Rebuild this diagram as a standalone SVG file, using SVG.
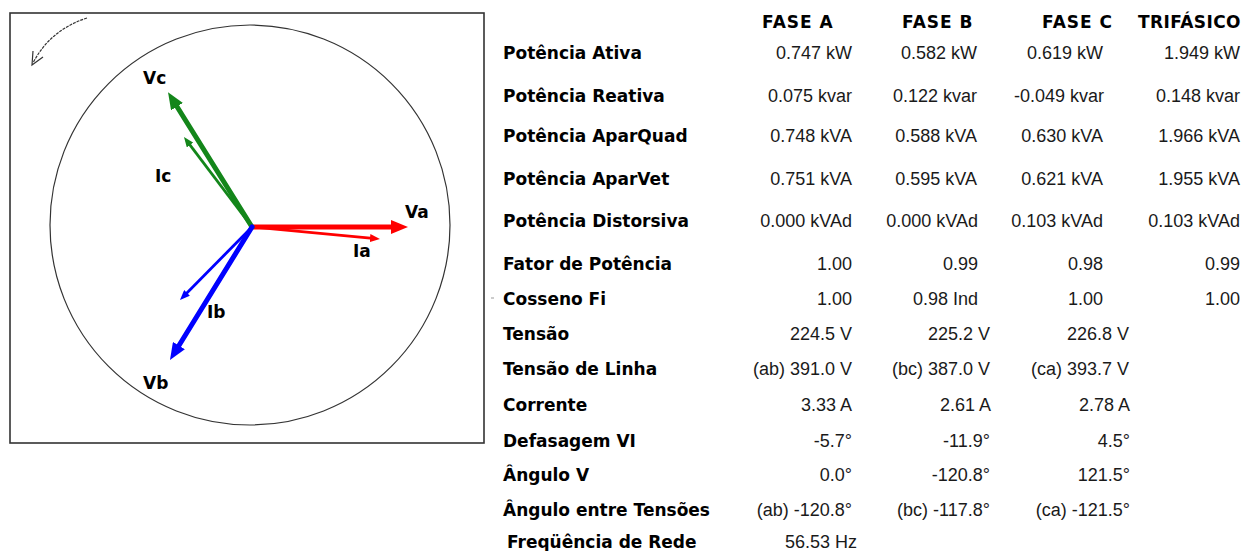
<svg xmlns="http://www.w3.org/2000/svg" width="1250" height="551" viewBox="0 0 1250 551">
<style>
.lbl{font-family:"DejaVu Sans",sans-serif;font-weight:bold;font-size:17px;fill:#000}
.hdr{font-family:"DejaVu Sans",sans-serif;font-weight:bold;font-size:17px;fill:#000;letter-spacing:1px}
.val{font-family:"Liberation Sans",Arial,sans-serif;font-size:18px;fill:#1a1a1a;text-anchor:end}
.ph{font-family:"DejaVu Sans",sans-serif;font-weight:bold;font-size:17px;fill:#000}
.thick{stroke-width:5;fill:none;stroke-linecap:round}
.thin{stroke-width:2.8;fill:none}
</style>
<defs>
<marker id="hR" markerUnits="userSpaceOnUse" markerWidth="17" markerHeight="14" refX="4" refY="7" orient="auto"><path d="M0,0 L17,7 L0,14 z" fill="#ff0000"/></marker>
<marker id="hG" markerUnits="userSpaceOnUse" markerWidth="17" markerHeight="14" refX="4" refY="7" orient="auto"><path d="M0,0 L17,7 L0,14 z" fill="#13861a"/></marker>
<marker id="hB" markerUnits="userSpaceOnUse" markerWidth="17" markerHeight="14" refX="4" refY="7" orient="auto"><path d="M0,0 L17,7 L0,14 z" fill="#0000ff"/></marker>
<marker id="sR" markerUnits="userSpaceOnUse" markerWidth="10" markerHeight="8" refX="3" refY="4" orient="auto"><path d="M0,0 L10,4 L0,8 z" fill="#ff0000"/></marker>
<marker id="sG" markerUnits="userSpaceOnUse" markerWidth="10" markerHeight="8" refX="3" refY="4" orient="auto"><path d="M0,0 L10,4 L0,8 z" fill="#13861a"/></marker>
<marker id="sB" markerUnits="userSpaceOnUse" markerWidth="10" markerHeight="8" refX="3" refY="4" orient="auto"><path d="M0,0 L10,4 L0,8 z" fill="#0000ff"/></marker>
</defs>
<rect width="1250" height="551" fill="#ffffff"/>
<g id="phasor-panel">
<rect x="10" y="13" width="474" height="430" fill="#ffffff" stroke="#333" stroke-width="1.6"/>
<circle cx="250" cy="225" r="200" fill="none" stroke="#333" stroke-width="1.2"/>
<path d="M87,18 Q50,30 33,63" fill="none" stroke="#333" stroke-width="1.2" stroke-dasharray="3,1"/>
<path d="M33,51 L32,65 L43,57" fill="none" stroke="#333" stroke-width="1.2"/>
</g>
<g id="connectors">
<line class="thin" x1="252" y1="227" x2="373" y2="238.3" stroke="#ff0000" marker-end="url(#sR)"/>
<line class="thin" x1="252" y1="227" x2="188.2" y2="142.6" stroke="#13861a" marker-end="url(#sG)"/>
<line class="thin" x1="252" y1="227" x2="184.9" y2="295" stroke="#0000ff" marker-end="url(#sB)"/>
<line class="thick" x1="252" y1="227" x2="395" y2="227" stroke="#ff0000" marker-end="url(#hR)"/>
<line class="thick" x1="252" y1="227" x2="174.9" y2="103.2" stroke="#13861a" marker-end="url(#hG)"/>
<line class="thick" x1="252" y1="227" x2="176.8" y2="349" stroke="#0000ff" marker-end="url(#hB)"/>
</g>
<g id="phasor-labels">
<text id="Va" class="ph" x="405" y="218">Va</text>
<text id="Ia" class="ph" x="353" y="257">Ia</text>
<text id="Vc" class="ph" x="143" y="84">Vc</text>
<text id="Ic" class="ph" x="155" y="182">Ic</text>
<text id="Vb" class="ph" x="143" y="389">Vb</text>
<text id="Ib" class="ph" x="207" y="318">Ib</text>
</g>
<g id="table-header">
<text class="hdr" x="762" y="28">FASE A</text>
<text class="hdr" x="902" y="28">FASE B</text>
<text class="hdr" x="1042" y="28">FASE C</text>
<text class="hdr" x="1138" y="28" style="letter-spacing:0.4px">TRIFÁSICO</text>
</g>
<g id="table-labels">
<text class="lbl" x="503" y="59">Potência Ativa</text>
<text class="lbl" x="503" y="102">Potência Reativa</text>
<text class="lbl" x="503" y="142">Potência AparQuad</text>
<text class="lbl" x="503" y="185">Potência AparVet</text>
<text class="lbl" x="503" y="227">Potência Distorsiva</text>
<text class="lbl" x="503" y="270">Fator de Potência</text>
<text class="lbl" x="503" y="305">Cosseno Fi</text>
<text class="lbl" x="503" y="340">Tensão</text>
<text class="lbl" x="503" y="375">Tensão de Linha</text>
<text class="lbl" x="503" y="411">Corrente</text>
<text class="lbl" x="503" y="447">Defasagem VI</text>
<text class="lbl" x="503" y="481">Ângulo V</text>
<text class="lbl" x="503" y="516">Ângulo entre Tensões</text>
<text class="lbl" x="507" y="548">Freqüência de Rede</text>
<line x1="491" y1="298" x2="494" y2="298" stroke="#999" stroke-width="1"/>
</g>
<g id="table-values">
<text class="val" x="852" y="59">0.747 kW</text>
<text class="val" x="977" y="59">0.582 kW</text>
<text class="val" x="1103" y="59">0.619 kW</text>
<text class="val" x="1240" y="59">1.949 kW</text>
<text class="val" x="852" y="102">0.075 kvar</text>
<text class="val" x="977" y="102">0.122 kvar</text>
<text class="val" x="1104" y="102">-0.049 kvar</text>
<text class="val" x="1240" y="102">0.148 kvar</text>
<text class="val" x="852" y="142">0.748 kVA</text>
<text class="val" x="977" y="142">0.588 kVA</text>
<text class="val" x="1103" y="142">0.630 kVA</text>
<text class="val" x="1240" y="142">1.966 kVA</text>
<text class="val" x="852" y="185">0.751 kVA</text>
<text class="val" x="977" y="185">0.595 kVA</text>
<text class="val" x="1103" y="185">0.621 kVA</text>
<text class="val" x="1240" y="185">1.955 kVA</text>
<text class="val" x="852" y="227">0.000 kVAd</text>
<text class="val" x="978" y="227">0.000 kVAd</text>
<text class="val" x="1103" y="227">0.103 kVAd</text>
<text class="val" x="1240" y="227">0.103 kVAd</text>
<text class="val" x="852" y="270">1.00</text>
<text class="val" x="978" y="270">0.99</text>
<text class="val" x="1103" y="270">0.98</text>
<text class="val" x="1240" y="270">0.99</text>
<text class="val" x="852" y="305">1.00</text>
<text class="val" x="978" y="305">0.98 Ind</text>
<text class="val" x="1103" y="305">1.00</text>
<text class="val" x="1240" y="305">1.00</text>
<text class="val" x="852" y="340">224.5 V</text>
<text class="val" x="990" y="340">225.2 V</text>
<text class="val" x="1129" y="340">226.8 V</text>
<text class="val" x="852" y="375">(ab) 391.0 V</text>
<text class="val" x="990" y="375">(bc) 387.0 V</text>
<text class="val" x="1129" y="375">(ca) 393.7 V</text>
<text class="val" x="852" y="411">3.33 A</text>
<text class="val" x="991" y="411">2.61 A</text>
<text class="val" x="1130" y="411">2.78 A</text>
<text class="val" x="852" y="447">-5.7°</text>
<text class="val" x="990" y="447">-11.9°</text>
<text class="val" x="1130" y="447">4.5°</text>
<text class="val" x="852" y="481">0.0°</text>
<text class="val" x="990" y="481">-120.8°</text>
<text class="val" x="1130" y="481">121.5°</text>
<text class="val" x="852" y="516">(ab) -120.8°</text>
<text class="val" x="990" y="516">(bc) -117.8°</text>
<text class="val" x="1130" y="516">(ca) -121.5°</text>
<text class="val" x="857" y="548">56.53 Hz</text>
</g>
</svg>
